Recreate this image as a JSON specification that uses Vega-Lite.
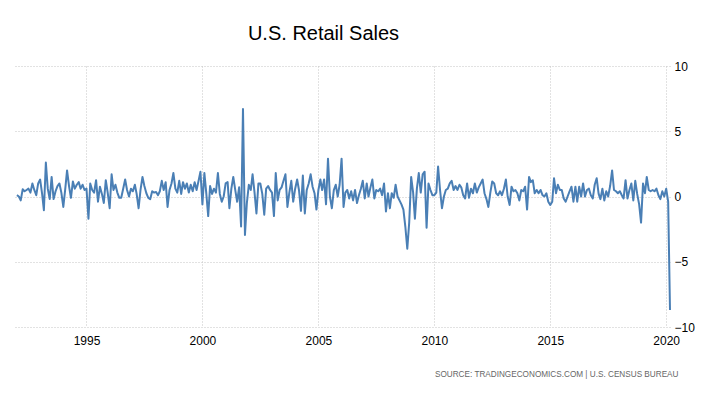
{
"$schema": "https://vega.github.io/schema/vega-lite/v6.json",
"width": 655,
"height": 261,
"autosize": {"type": "none"},
"padding": {"left": 15, "top": 66, "right": 31, "bottom": 68},
"background": "white",
"title": {"text": "U.S. Retail Sales", "font": "Liberation Sans", "fontSize": 20, "fontWeight": "normal", "color": "#000000", "anchor": "middle", "dx": -19, "offset": 0, "baseline": "alphabetic"},
"data": {"values": [
{"d":"1992-01-01","v":0.1},{"d":"1992-02-01","v":0.0},{"d":"1992-03-01","v":-0.3},{"d":"1992-04-01","v":0.55},{"d":"1992-05-01","v":0.4},{"d":"1992-06-01","v":0.5},{"d":"1992-07-01","v":0.6},{"d":"1992-08-01","v":0.3},{"d":"1992-09-01","v":1.0},{"d":"1992-10-01","v":0.5},{"d":"1992-11-01","v":0.1},{"d":"1992-12-01","v":1.0},
{"d":"1993-01-01","v":1.3},{"d":"1993-02-01","v":0.2},{"d":"1993-03-01","v":-1.05},{"d":"1993-04-01","v":2.6},{"d":"1993-05-01","v":0.6},{"d":"1993-06-01","v":-0.2},{"d":"1993-07-01","v":1.5},{"d":"1993-08-01","v":-0.2},{"d":"1993-09-01","v":0.4},{"d":"1993-10-01","v":0.8},{"d":"1993-11-01","v":1.0},{"d":"1993-12-01","v":0.3},
{"d":"1994-01-01","v":-0.8},{"d":"1994-02-01","v":0.6},{"d":"1994-03-01","v":2.0},{"d":"1994-04-01","v":0.8},{"d":"1994-05-01","v":-0.1},{"d":"1994-06-01","v":1.15},{"d":"1994-07-01","v":0.6},{"d":"1994-08-01","v":0.9},{"d":"1994-09-01","v":1.1},{"d":"1994-10-01","v":0.6},{"d":"1994-11-01","v":0.9},{"d":"1994-12-01","v":0.5},
{"d":"1995-01-01","v":0.6},{"d":"1995-02-01","v":-1.7},{"d":"1995-03-01","v":1.0},{"d":"1995-04-01","v":0.5},{"d":"1995-05-01","v":0.3},{"d":"1995-06-01","v":1.25},{"d":"1995-07-01","v":-0.4},{"d":"1995-08-01","v":0.75},{"d":"1995-09-01","v":0.2},{"d":"1995-10-01","v":-0.5},{"d":"1995-11-01","v":1.25},{"d":"1995-12-01","v":0.3},
{"d":"1996-01-01","v":-0.9},{"d":"1996-02-01","v":1.7},{"d":"1996-03-01","v":0.5},{"d":"1996-04-01","v":0.9},{"d":"1996-05-01","v":0.3},{"d":"1996-06-01","v":-0.1},{"d":"1996-07-01","v":-0.1},{"d":"1996-08-01","v":0.6},{"d":"1996-09-01","v":1.3},{"d":"1996-10-01","v":0.5},{"d":"1996-11-01","v":0.0},{"d":"1996-12-01","v":0.6},
{"d":"1997-01-01","v":0.4},{"d":"1997-02-01","v":0.9},{"d":"1997-03-01","v":0.2},{"d":"1997-04-01","v":-0.9},{"d":"1997-05-01","v":0.5},{"d":"1997-06-01","v":1.5},{"d":"1997-07-01","v":0.8},{"d":"1997-08-01","v":0.25},{"d":"1997-09-01","v":-0.1},{"d":"1997-10-01","v":-0.2},{"d":"1997-11-01","v":0.4},{"d":"1997-12-01","v":0.3},
{"d":"1998-01-01","v":0.35},{"d":"1998-02-01","v":0.1},{"d":"1998-03-01","v":0.4},{"d":"1998-04-01","v":1.2},{"d":"1998-05-01","v":0.5},{"d":"1998-06-01","v":1.1},{"d":"1998-07-01","v":-0.8},{"d":"1998-08-01","v":0.5},{"d":"1998-09-01","v":1.0},{"d":"1998-10-01","v":1.8},{"d":"1998-11-01","v":0.6},{"d":"1998-12-01","v":0.3},
{"d":"1999-01-01","v":1.2},{"d":"1999-02-01","v":0.2},{"d":"1999-03-01","v":1.1},{"d":"1999-04-01","v":0.6},{"d":"1999-05-01","v":1.0},{"d":"1999-06-01","v":0.3},{"d":"1999-07-01","v":0.9},{"d":"1999-08-01","v":0.4},{"d":"1999-09-01","v":1.1},{"d":"1999-10-01","v":0.5},{"d":"1999-11-01","v":1.2},{"d":"1999-12-01","v":1.9},
{"d":"2000-01-01","v":-0.6},{"d":"2000-02-01","v":1.8},{"d":"2000-03-01","v":0.3},{"d":"2000-04-01","v":-1.5},{"d":"2000-05-01","v":0.8},{"d":"2000-06-01","v":0.2},{"d":"2000-07-01","v":0.6},{"d":"2000-08-01","v":0.3},{"d":"2000-09-01","v":1.8},{"d":"2000-10-01","v":0.2},{"d":"2000-11-01","v":-0.4},{"d":"2000-12-01","v":0.0},
{"d":"2001-01-01","v":1.0},{"d":"2001-02-01","v":1.1},{"d":"2001-03-01","v":-0.9},{"d":"2001-04-01","v":0.6},{"d":"2001-05-01","v":1.5},{"d":"2001-06-01","v":0.5},{"d":"2001-07-01","v":-0.4},{"d":"2001-08-01","v":0.7},{"d":"2001-09-01","v":-2.3},{"d":"2001-10-01","v":6.7},{"d":"2001-11-01","v":-2.95},{"d":"2001-12-01","v":-0.5},
{"d":"2002-01-01","v":0.9},{"d":"2002-02-01","v":0.5},{"d":"2002-03-01","v":1.7},{"d":"2002-04-01","v":0.3},{"d":"2002-05-01","v":-1.3},{"d":"2002-06-01","v":1.0},{"d":"2002-07-01","v":1.0},{"d":"2002-08-01","v":0.2},{"d":"2002-09-01","v":-1.4},{"d":"2002-10-01","v":0.6},{"d":"2002-11-01","v":0.8},{"d":"2002-12-01","v":0.5},
{"d":"2003-01-01","v":0.3},{"d":"2003-02-01","v":-1.5},{"d":"2003-03-01","v":1.8},{"d":"2003-04-01","v":-0.3},{"d":"2003-05-01","v":0.5},{"d":"2003-06-01","v":0.7},{"d":"2003-07-01","v":1.2},{"d":"2003-08-01","v":1.7},{"d":"2003-09-01","v":-0.8},{"d":"2003-10-01","v":0.3},{"d":"2003-11-01","v":1.2},{"d":"2003-12-01","v":-0.4},
{"d":"2004-01-01","v":0.6},{"d":"2004-02-01","v":1.3},{"d":"2004-03-01","v":0.5},{"d":"2004-04-01","v":-1.1},{"d":"2004-05-01","v":1.6},{"d":"2004-06-01","v":-1.3},{"d":"2004-07-01","v":0.5},{"d":"2004-08-01","v":1.0},{"d":"2004-09-01","v":1.7},{"d":"2004-10-01","v":0.75},{"d":"2004-11-01","v":0.25},{"d":"2004-12-01","v":-1.0},
{"d":"2005-01-01","v":0.5},{"d":"2005-02-01","v":1.3},{"d":"2005-03-01","v":0.5},{"d":"2005-04-01","v":1.3},{"d":"2005-05-01","v":-0.6},{"d":"2005-06-01","v":2.9},{"d":"2005-07-01","v":0.0},{"d":"2005-08-01","v":-0.9},{"d":"2005-09-01","v":0.5},{"d":"2005-10-01","v":0.9},{"d":"2005-11-01","v":0.0},{"d":"2005-12-01","v":0.9},
{"d":"2006-01-01","v":2.9},{"d":"2006-02-01","v":-0.8},{"d":"2006-03-01","v":0.3},{"d":"2006-04-01","v":0.5},{"d":"2006-05-01","v":-0.15},{"d":"2006-06-01","v":0.4},{"d":"2006-07-01","v":-0.3},{"d":"2006-08-01","v":0.5},{"d":"2006-09-01","v":-0.5},{"d":"2006-10-01","v":0.1},{"d":"2006-11-01","v":0.6},{"d":"2006-12-01","v":1.2},
{"d":"2007-01-01","v":-0.15},{"d":"2007-02-01","v":1.0},{"d":"2007-03-01","v":0.0},{"d":"2007-04-01","v":0.7},{"d":"2007-05-01","v":1.3},{"d":"2007-06-01","v":-0.15},{"d":"2007-07-01","v":0.5},{"d":"2007-08-01","v":0.4},{"d":"2007-09-01","v":0.6},{"d":"2007-10-01","v":0.1},{"d":"2007-11-01","v":1.0},{"d":"2007-12-01","v":-1.15},
{"d":"2008-01-01","v":0.25},{"d":"2008-02-01","v":-0.9},{"d":"2008-03-01","v":0.25},{"d":"2008-04-01","v":-0.1},{"d":"2008-05-01","v":0.9},{"d":"2008-06-01","v":0.0},{"d":"2008-07-01","v":-0.3},{"d":"2008-08-01","v":-0.6},{"d":"2008-09-01","v":-1.0},{"d":"2008-10-01","v":-2.3},{"d":"2008-11-01","v":-4.0},{"d":"2008-12-01","v":-2.0},
{"d":"2009-01-01","v":1.5},{"d":"2009-02-01","v":0.3},{"d":"2009-03-01","v":-1.7},{"d":"2009-04-01","v":0.6},{"d":"2009-05-01","v":1.8},{"d":"2009-06-01","v":0.3},{"d":"2009-07-01","v":1.7},{"d":"2009-08-01","v":1.9},{"d":"2009-09-01","v":-2.4},{"d":"2009-10-01","v":1.0},{"d":"2009-11-01","v":0.5},{"d":"2009-12-01","v":0.1},
{"d":"2010-01-01","v":0.1},{"d":"2010-02-01","v":0.3},{"d":"2010-03-01","v":2.3},{"d":"2010-04-01","v":0.5},{"d":"2010-05-01","v":-0.9},{"d":"2010-06-01","v":0.0},{"d":"2010-07-01","v":0.5},{"d":"2010-08-01","v":0.6},{"d":"2010-09-01","v":1.0},{"d":"2010-10-01","v":1.2},{"d":"2010-11-01","v":0.5},{"d":"2010-12-01","v":0.8},
{"d":"2011-01-01","v":0.5},{"d":"2011-02-01","v":0.9},{"d":"2011-03-01","v":0.7},{"d":"2011-04-01","v":0.1},{"d":"2011-05-01","v":-0.15},{"d":"2011-06-01","v":1.0},{"d":"2011-07-01","v":-0.1},{"d":"2011-08-01","v":0.6},{"d":"2011-09-01","v":0.25},{"d":"2011-10-01","v":1.0},{"d":"2011-11-01","v":0.3},{"d":"2011-12-01","v":0.7},
{"d":"2012-01-01","v":1.0},{"d":"2012-02-01","v":1.3},{"d":"2012-03-01","v":0.25},{"d":"2012-04-01","v":-0.2},{"d":"2012-05-01","v":-0.8},{"d":"2012-06-01","v":0.3},{"d":"2012-07-01","v":1.15},{"d":"2012-08-01","v":1.0},{"d":"2012-09-01","v":0.25},{"d":"2012-10-01","v":0.1},{"d":"2012-11-01","v":0.4},{"d":"2012-12-01","v":0.1},
{"d":"2013-01-01","v":0.6},{"d":"2013-02-01","v":1.3},{"d":"2013-03-01","v":0.0},{"d":"2013-04-01","v":-0.65},{"d":"2013-05-01","v":0.75},{"d":"2013-06-01","v":0.4},{"d":"2013-07-01","v":0.5},{"d":"2013-08-01","v":0.25},{"d":"2013-09-01","v":-0.3},{"d":"2013-10-01","v":0.5},{"d":"2013-11-01","v":0.4},{"d":"2013-12-01","v":0.75},
{"d":"2014-01-01","v":-1.0},{"d":"2014-02-01","v":1.5},{"d":"2014-03-01","v":1.1},{"d":"2014-04-01","v":1.25},{"d":"2014-05-01","v":0.25},{"d":"2014-06-01","v":0.5},{"d":"2014-07-01","v":0.25},{"d":"2014-08-01","v":0.5},{"d":"2014-09-01","v":0.1},{"d":"2014-10-01","v":0.0},{"d":"2014-11-01","v":0.25},{"d":"2014-12-01","v":-0.4},
{"d":"2015-01-01","v":-0.65},{"d":"2015-02-01","v":-0.4},{"d":"2015-03-01","v":1.4},{"d":"2015-04-01","v":0.25},{"d":"2015-05-01","v":0.9},{"d":"2015-06-01","v":0.5},{"d":"2015-07-01","v":0.5},{"d":"2015-08-01","v":-0.15},{"d":"2015-09-01","v":-0.4},{"d":"2015-10-01","v":0.0},{"d":"2015-11-01","v":0.4},{"d":"2015-12-01","v":0.75},
{"d":"2016-01-01","v":-0.4},{"d":"2016-02-01","v":0.75},{"d":"2016-03-01","v":-0.4},{"d":"2016-04-01","v":0.75},{"d":"2016-05-01","v":0.0},{"d":"2016-06-01","v":1.0},{"d":"2016-07-01","v":0.0},{"d":"2016-08-01","v":0.5},{"d":"2016-09-01","v":0.6},{"d":"2016-10-01","v":0.1},{"d":"2016-11-01","v":-0.15},{"d":"2016-12-01","v":0.9},
{"d":"2017-01-01","v":1.4},{"d":"2017-02-01","v":0.2},{"d":"2017-03-01","v":-0.2},{"d":"2017-04-01","v":0.6},{"d":"2017-05-01","v":-0.3},{"d":"2017-06-01","v":0.4},{"d":"2017-07-01","v":0.0},{"d":"2017-08-01","v":0.8},{"d":"2017-09-01","v":2.0},{"d":"2017-10-01","v":0.5},{"d":"2017-11-01","v":0.4},{"d":"2017-12-01","v":0.25},
{"d":"2018-01-01","v":0.4},{"d":"2018-02-01","v":0.1},{"d":"2018-03-01","v":-0.15},{"d":"2018-04-01","v":1.25},{"d":"2018-05-01","v":-0.15},{"d":"2018-06-01","v":0.5},{"d":"2018-07-01","v":1.0},{"d":"2018-08-01","v":-0.3},{"d":"2018-09-01","v":1.2},{"d":"2018-10-01","v":0.2},{"d":"2018-11-01","v":-0.6},{"d":"2018-12-01","v":-2.0},
{"d":"2019-01-01","v":1.0},{"d":"2019-02-01","v":0.25},{"d":"2019-03-01","v":1.5},{"d":"2019-04-01","v":0.5},{"d":"2019-05-01","v":0.4},{"d":"2019-06-01","v":0.5},{"d":"2019-07-01","v":0.4},{"d":"2019-08-01","v":0.6},{"d":"2019-09-01","v":0.1},{"d":"2019-10-01","v":-0.2},{"d":"2019-11-01","v":0.4},{"d":"2019-12-01","v":0.0},
{"d":"2020-01-01","v":0.6},{"d":"2020-02-01","v":-0.4},{"d":"2020-03-01","v":-8.7}
]},
"mark": {"type": "line", "color": "#4a7fb5", "strokeWidth": 2, "strokeJoin": "round"},
"encoding": {
"x": {"field": "d", "type": "temporal",
"scale": {"type": "utc", "domain": [{"year": 1991, "month": 12, "date": 2, "utc": true}, {"year": 2020, "month": 3, "date": 1, "utc": true}]},
"axis": {"values": [{"year": 1995, "utc": true}, {"year": 2000, "utc": true}, {"year": 2005, "utc": true}, {"year": 2010, "utc": true}, {"year": 2015, "utc": true}, {"year": 2020, "utc": true}],
"format": "%Y", "formatType": "utc", "domain": false, "ticks": false, "grid": true, "gridDash": [1, 2], "gridColor": "#c4c4c4", "gridWidth": 1,
"labelFont": "Liberation Sans", "labelFontSize": 12, "labelColor": "#000000", "labelPadding": 8,
"title": "SOURCE: TRADINGECONOMICS.COM | U.S. CENSUS BUREAU", "titleFont": "Liberation Sans", "titleFontSize": 8.2, "titleFontWeight": "normal", "titleColor": "#666666", "titleAnchor": "end", "titleAlign": "right", "titleX": 663, "titlePadding": 24}},
"y": {"field": "v", "type": "quantitative",
"scale": {"domain": [-10, 10], "nice": false, "zero": false},
"axis": {"orient": "right", "values": [-10, -5, 0, 5, 10], "domain": false, "ticks": false, "grid": true, "gridDash": [1, 2], "gridColor": "#c4c4c4", "gridWidth": 1,
"labelFont": "Liberation Sans", "labelFontSize": 12, "labelColor": "#000000", "labelAlign": "left", "labelPadding": 4, "title": null}}
},
"config": {"view": {"stroke": null}}
}
